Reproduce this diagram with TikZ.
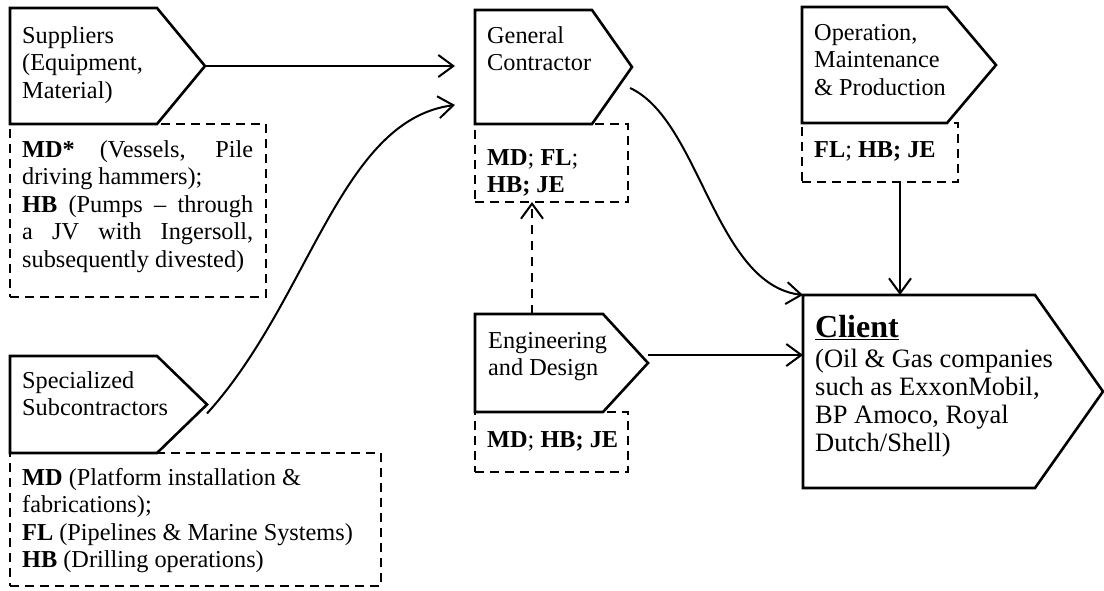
\documentclass[tikz,border=0pt]{standalone}
\usepackage{fontspec}
\setmainfont{Liberation Serif}
\usetikzlibrary{arrows.meta,calc}

\tikzset{
  x=1pt, y=-1pt,
  rectpart/.style={draw=none, inner sep=0pt, outer sep=0pt, anchor=north west},
  penline/.style={line width=2.6pt, line join=miter},
  dashbox/.style={draw, line width=2pt, dash pattern=on 9pt off 6pt,
                  inner sep=0pt, outer sep=0pt, anchor=north west},
  txt/.style={inner sep=0pt, anchor=base west,
              font=\fontsize{24.3}{27.5}\selectfont},
  link/.style={line width=2pt, -{Straight Barb[length=15pt,width=22pt]}},
  dlink/.style={link, dash pattern=on 9pt off 7pt},
}

% pentagon arrow box built on a rectangle node; the point is #2 wide
\newcommand\arrowbox[2]{%
  \draw[penline] (#1.north west) -- (#1.north east)
    -- ($(#1.east)+(#2,0)$) coordinate (#1-tip)
    -- (#1.south east) -- (#1.south west) -- cycle;}

\begin{document}
\begin{tikzpicture}
\useasboundingbox (0,0) rectangle (1104,590);

% dashed company boxes
\node[dashbox, minimum width=256pt, minimum height=173pt] (supd) at (10,124) {};
\node[dashbox, minimum width=153pt, minimum height=78pt]  (gcd)  at (475,124) {};
\node[dashbox, minimum width=156pt, minimum height=59pt]  (opd)  at (802,123) {};
\node[dashbox, minimum width=153pt, minimum height=60pt]  (engd) at (475,412) {};
\node[dashbox, minimum width=371pt, minimum height=133pt] (specd) at (10,453) {};

% role boxes
\node[rectpart, minimum width=147pt, minimum height=116pt] (sup) at (10,8) {};
\arrowbox{sup}{48}
\node[rectpart, minimum width=117pt, minimum height=114pt] (gc) at (475,10) {};
\arrowbox{gc}{40}
\node[rectpart, minimum width=145pt, minimum height=116pt] (op) at (802,7) {};
\arrowbox{op}{49}
\node[rectpart, minimum width=128pt, minimum height=98pt] (eng) at (475,314) {};
\arrowbox{eng}{45}
\node[rectpart, minimum width=147pt, minimum height=97pt] (spec) at (10,356) {};
\arrowbox{spec}{50}
\node[rectpart, minimum width=232pt, minimum height=193pt] (client) at (803,295) {};
\arrowbox{client}{68}

% labels
\node[txt] (sup-t) at (22,43) {\parbox[t]{200pt}{Suppliers\\(Equipment,\\Material)}};
\node[txt] (supd-t) at (22,157) {\parbox[t]{231pt}{%
  \makebox[\linewidth][s]{\textbf{MD*} (Vessels, Pile}\\
  driving hammers);\\
  \makebox[\linewidth][s]{\textbf{HB} (Pumps -- through}\\
  \makebox[\linewidth][s]{a JV with Ingersoll,}\\
  subsequently divested)}};
\node[txt] (gc-t) at (487,43) {\parbox[t]{110pt}{General\\Contractor}};
\node[txt] (gcd-t) at (487,165) {\parbox[t]{140pt}{\textbf{MD}; \textbf{FL};\\\textbf{HB; JE}}};
\node[txt] (op-t) at (814,40) {\parbox[t]{140pt}{Operation,\\Maintenance\\\& Production}};
\node[txt] (opd-t) at (814,157) {\textbf{FL}; \textbf{HB; JE}};
\node[txt] (eng-t) at (488,348) {\parbox[t]{130pt}{Engineering\\and Design}};
\node[txt] (engd-t) at (487,447) {\textbf{MD}; \textbf{HB; JE}};
\node[txt] (spec-t) at (22,388) {\parbox[t]{150pt}{Specialized\\Subcontractors}};
\node[txt] (specd-t) at (22,485) {\parbox[t]{355pt}{%
  \textbf{MD} (Platform installation \&\\
  fabrications);\\
  \textbf{FL} (Pipelines \& Marine Systems)\\
  \textbf{HB} (Drilling operations)}};
\node[txt, font=\fontsize{32}{34}\selectfont\bfseries] (client-h) at (815,337) {\underline{Client}};
\node[txt, font=\fontsize{26.5}{28}\selectfont] (client-t) at (815,367) {\parbox[t]{260pt}{%
  (Oil \& Gas companies\\such as ExxonMobil,\\BP Amoco, Royal\\Dutch/Shell)}};

% flows
\draw[link, shorten >=20pt] (sup-tip) -- (sup-tip -| gc.west);
\coordinate (spec-out) at ($(spec-tip)+(0,9)$);
\coordinate (gc-in) at ($(gc.west)+(-20,38)$);
\draw[link] (spec-out) .. controls (310,300) and (340,120) .. (gc-in);
\coordinate (gc-out) at ($(gc-tip)+(-2,21)$);
\draw[link] (gc-out) .. controls (700,120) and (715,285) .. (client.north west);
\coordinate (eng-out) at ($(eng-tip)+(0,-8)$);
\draw[link] (eng-out) -- (eng-out -| client.west);
\coordinate (eng-up) at ($(eng.north west)+(57,0)$);
\draw[dlink] (eng-up) -- (eng-up |- gcd.south);
\coordinate (op-down) at ($(opd.south west)+(98,0)$);
\draw[link] (op-down) -- (op-down |- client.north);
\end{tikzpicture}
\end{document}
